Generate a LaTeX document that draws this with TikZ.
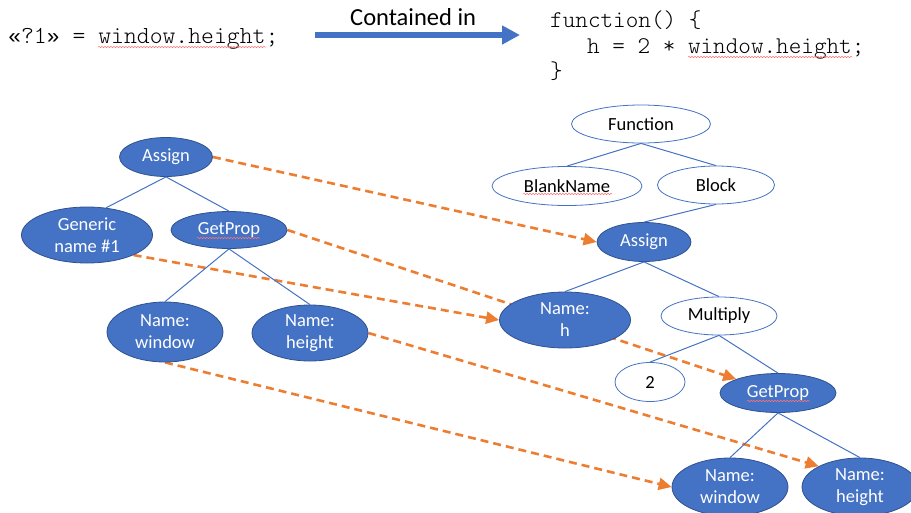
\documentclass[tikz,border=0pt]{standalone}
\usepackage{fontspec}
\setmainfont{Carlito}
\newfontfamily\codefont{Latin Modern Mono Light}
\newfontfamily\quotefont{Liberation Mono}
\usetikzlibrary{shapes.geometric,arrows.meta,backgrounds,decorations.pathmorphing}
\definecolor{nodeblue}{HTML}{4472C4}
\definecolor{rimblue}{HTML}{2F528F}
\definecolor{maporange}{HTML}{ED7D31}
\newcommand{\gq}[1]{{\quotefont\fontsize{21.5}{26}\selectfont #1}}

\begin{document}
\begin{tikzpicture}[x=1pt,y=-1pt,
    sized/.style 2 args={minimum width=#1pt,minimum height=#2pt},
    astnode/.style={ellipse,draw=rimblue,fill=nodeblue,text=white,line width=.8pt,
      inner sep=0pt,align=center,font=\fontsize{18.5}{22}\selectfont},
    holenode/.style={astnode,draw=nodeblue,fill=white,text=black},
    treeedge/.style={nodeblue,line width=1pt},
    mapping/.style={maporange,line width=2.6pt,dash pattern=on 8pt off 5pt,
      -{Triangle[length=13pt,width=12pt]}},
    codeline/.style={anchor=base west,inner sep=0pt,font=\codefont\fontsize{24}{26}\selectfont},
    squiggle/.style={red!55,line width=.5pt,decorate,
      decoration={snake,amplitude=.7pt,segment length=3pt}}]
  \useasboundingbox (0,0) rectangle (911,512);
  % query and its context
  \node[codeline,font=\codefont\fontsize{24.5}{26}\selectfont] (pattern) at (8,43) {\gq{«}?1\gq{»} = window.height;};
  \node[anchor=base west,inner sep=0pt,font=\fontsize{24.5}{28}\selectfont] (contained) at (350,25) {Contained in};
  \coordinate (arrowstart) at (315,35);
  \coordinate (arrowend) at (520,35);
  \draw[nodeblue,line width=5.5pt,-{Triangle[length=18pt,width=18pt]}] (arrowstart) -- (arrowend);
  \node[codeline] (codeA) at (550,27) {function() \{};
  \node[codeline] (codeB) at (587,53) {h = 2 * window.height;};
  \node[codeline] (codeC) at (550,78) {\}};
  \draw[squiggle] (98,47) -- (266,47);
  \draw[squiggle] (688,57) -- (852,57);
  % pattern tree
  \node[astnode,sized={93}{39}] (lassign) at (166,157) {Assign};
  \node[astnode,sized={131}{56}] (lgeneric) at (87,235) {Generic\\name \#1};
  \node[astnode,sized={116}{37}] (lgetprop) at (229,230) {GetProp};
  \node[astnode,sized={116}{60}] (lwindow) at (165,332) {Name:\\window};
  \node[astnode,sized={116}{56}] (lheight) at (310,333) {Name:\\height};
  \draw[treeedge] (lassign.south) -- (lgeneric.55);
  \draw[treeedge] (lassign.south) -- (lgetprop.north);
  \draw[treeedge] (lgetprop.south) -- (lwindow.north);
  \draw[treeedge] (lgetprop.south) -- (lheight.north);
  % program tree
  \node[holenode,sized={139}{38}] (function) at (641,124) {Function};
  \node[holenode,sized={150}{39}] (blank) at (567,186) {BlankName};
  \node[holenode,sized={117}{38}] (block) at (716,185) {Block};
  \node[astnode,sized={94}{39}] (rassign) at (644,242) {Assign};
  \node[astnode,sized={131}{56}] (nameh) at (565,320) {Name:\\h};
  \node[holenode,sized={116}{38}] (multiply) at (719,316) {Multiply};
  \node[holenode,sized={70}{39}] (two) at (650,382) {2};
  \node[astnode,sized={116}{39}] (rgetprop) at (778,393) {GetProp};
  \node[astnode,sized={116}{58}] (rwindow) at (730,487) {Name:\\window};
  \node[astnode,sized={116}{58}] (rheight) at (860,487) {Name:\\height};
  \draw[treeedge] (function.south) -- (blank.north);
  \draw[treeedge] (function.south) -- (block.north);
  \draw[treeedge] (block.south) -- (rassign.north);
  \draw[treeedge] (rassign.south) -- (nameh.north);
  \draw[treeedge] (rassign.south) -- (multiply.north);
  \draw[treeedge] (multiply.south) -- (two.north);
  \draw[treeedge] (multiply.south) -- (rgetprop.north);
  \draw[treeedge] (rgetprop.south) -- (rwindow.north);
  \draw[treeedge] (rgetprop.south) -- (rheight.north);
  \draw[squiggle] (523,194) -- (612,194);
  \draw[squiggle] (197,238) -- (260,238);
  \draw[squiggle] (747,401) -- (810,401);
  % matches
  \begin{scope}[on background layer]
    \draw[mapping] (lassign.east) -- (rassign.west);
    \draw[mapping] (lgetprop.east) -- (rgetprop);
    \draw[mapping] (lgeneric.south east) -- (nameh.west);
    \draw[mapping] (lheight.east) -- (rheight.north west);
    \draw[mapping] (lwindow.south) -- (rwindow.west);
  \end{scope}
\end{tikzpicture}
\end{document}
